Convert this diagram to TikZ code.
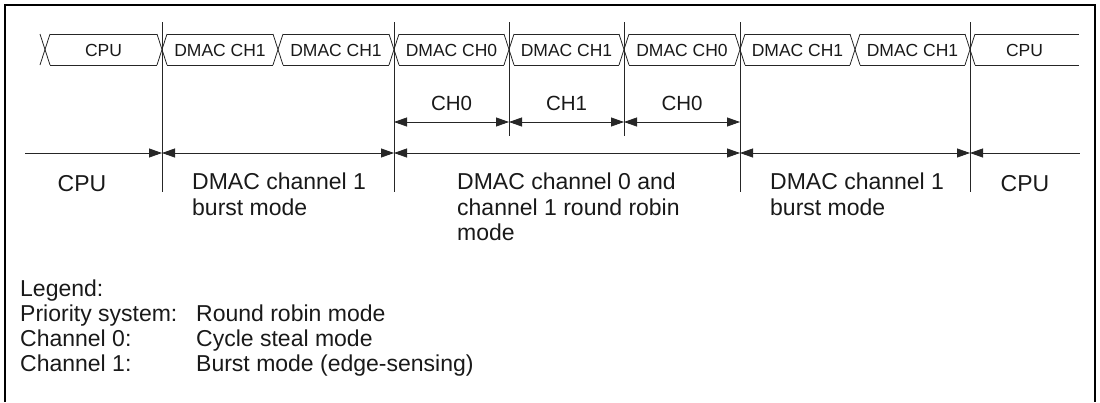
\documentclass[tikz,border=0pt]{standalone}
\usepackage{fontspec}
\setmainfont{Liberation Sans}
\usetikzlibrary{arrows.meta}
\begin{document}
\begin{tikzpicture}[x=1pt,y=-1pt,
  thinline/.style={line width=0.8pt, draw=black!85},
  buslabel/.style={font=\fontsize{17.5}{20}\selectfont, inner sep=0pt, text=black!90},
  chlabel/.style={font=\fontsize{20.5}{24}\selectfont, inner sep=0pt, text=black!90},
  biglabel/.style={font=\fontsize{23}{25.5}\selectfont, inner sep=0pt, text=black!90},
  mainlabel/.style={font=\fontsize{23}{25.5}\selectfont, inner sep=0pt, align=left, text=black!90, anchor=north west},
  spanarrow/.style={thinline, {Triangle[length=13pt,width=9pt]}-{Triangle[length=13pt,width=9pt]}},
  rightarrow/.style={thinline, -{Triangle[length=13pt,width=9pt]}},
  leftarrow/.style={thinline, {Triangle[length=13pt,width=9pt]}-},
]
\useasboundingbox (0,0) rectangle (1100,402);
% frame (open at the bottom)
\draw[line width=2.5pt] (5,402) -- (5,5) -- (1095,5) -- (1095,402);

% bus crossings
\foreach \c in {45,162,278,394,509,624,740,855,970}{
  \draw[thinline] (\c-5,34) -- (\c+5,65);
  \draw[thinline] (\c-5,65) -- (\c+5,34);
}
\foreach \a/\b in {45/162,162/278,278/394,394/509,509/624,624/740,740/855,855/970}{
  \draw[thinline] (\a+5,34) -- (\b-5,34);
  \draw[thinline] (\a+5,65) -- (\b-5,65);
}
\draw[thinline] (975,34) -- (1079,34);
\draw[thinline] (975,65) -- (1079,65);

% bus labels
\node[buslabel] (s1) at (103.5,50) {CPU};
\node[buslabel] (s2) at (220,50) {DMAC CH1};
\node[buslabel] (s3) at (336,50) {DMAC CH1};
\node[buslabel] (s4) at (451.5,50) {DMAC CH0};
\node[buslabel] (s5) at (566.5,50) {DMAC CH1};
\node[buslabel] (s6) at (682,50) {DMAC CH0};
\node[buslabel] (s7) at (797.5,50) {DMAC CH1};
\node[buslabel] (s8) at (912.5,50) {DMAC CH1};
\node[buslabel] (s9) at (1024.5,50) {CPU};

% vertical marker lines
\coordinate (v1t) at (162,22);  \coordinate (v1b) at (162,192);
\coordinate (v2t) at (394,22);  \coordinate (v2b) at (394,192);
\coordinate (v3t) at (509,22);  \coordinate (v3b) at (509,136);
\coordinate (v4t) at (624,22);  \coordinate (v4b) at (624,136);
\coordinate (v5t) at (740,22);  \coordinate (v5b) at (740,192);
\coordinate (v6t) at (970,22);  \coordinate (v6b) at (970,192);
\foreach \i in {1,...,6}{\draw[thinline] (v\i t) -- (v\i b);}

% CH arrows
\coordinate (c0) at (394,122);
\coordinate (c1) at (509,122);
\coordinate (c2) at (624,122);
\coordinate (c3) at (740,122);
\draw[spanarrow] (c0) -- (c1);
\draw[spanarrow] (c1) -- (c2);
\draw[spanarrow] (c2) -- (c3);
\node[chlabel] (ch0a) at (451.5,103) {CH0};
\node[chlabel] (ch1) at (566.5,103) {CH1};
\node[chlabel] (ch0b) at (682,103) {CH0};

% main span arrows
\coordinate (m0) at (25,153);
\coordinate (m1) at (162,153);
\coordinate (m2) at (394,153);
\coordinate (m3) at (740,153);
\coordinate (m4) at (970,153);
\coordinate (m5) at (1080,153);
\draw[rightarrow] (m0) -- (m1);
\draw[spanarrow] (m1) -- (m2);
\draw[spanarrow] (m2) -- (m3);
\draw[spanarrow] (m3) -- (m4);
\draw[leftarrow] (m4) -- (m5);

% main labels
\node[biglabel] (p1) at (82,184) {CPU};
\node[mainlabel] (p2) at (192,173) {DMAC channel 1\\burst mode};
\node[mainlabel] (p3) at (457,173) {DMAC channel 0 and\\channel 1 round robin\\mode};
\node[mainlabel] (p4) at (770,173) {DMAC channel 1\\burst mode};
\node[biglabel] (p5) at (1025,184) {CPU};

% legend
\node[mainlabel] (lg) at (20,280) {Legend:};
\node[mainlabel] (l1) at (20,305) {Priority system:};
\node[mainlabel] (l2) at (20,330) {Channel 0:};
\node[mainlabel] (l3) at (20,355) {Channel 1:};
\node[mainlabel] (r1) at (196,305) {Round robin mode};
\node[mainlabel] (r2) at (196,330) {Cycle steal mode};
\node[mainlabel] (r3) at (196,355) {Burst mode (edge-sensing)};
\end{tikzpicture}
\end{document}
